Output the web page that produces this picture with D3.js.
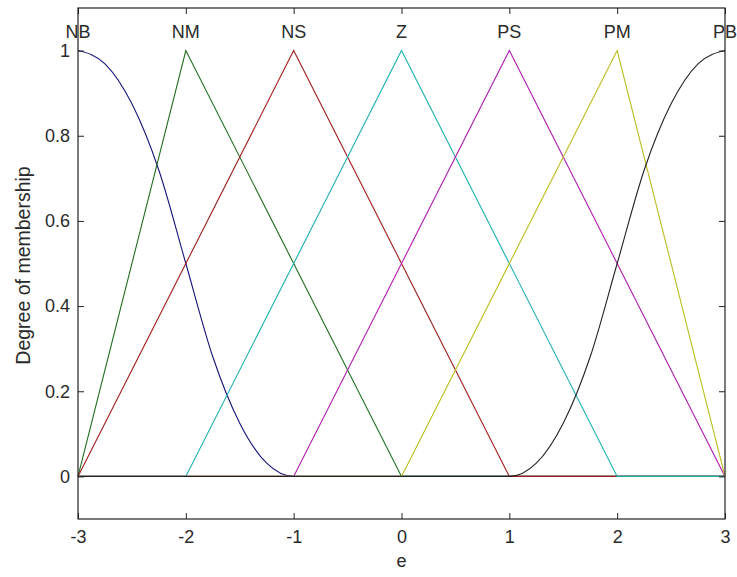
<!DOCTYPE html>
<html>
<head>
<meta charset="utf-8">
<script src="https://cdn.jsdelivr.net/npm/d3@7/dist/d3.min.js"></script>
<style>
  body { margin: 0; background: #fff; }
  svg text { font-family: "Liberation Sans", Arial, sans-serif; fill: #2a2a2a; }
</style>
</head>
<body>
<div id="chart"></div>
<script>
// membership function names (labels on top) and their peak positions
var mfNames = ["NB", "NM", "NS", "Z", "PS", "PM", "PB"]
var mfPeaks = [-3, -2, -1, 0, 1, 2, 3]
var mfColors = ["#14147a", "#1f6e1f", "#a01c1c", "#1cb0b0", "#b01cb0", "#bcbc1c", "#222222"]

// points of each curve (each covers the whole range -3..3)
var nbX = [-3, -2.75, -2.5, -2.25, -2, -1.75, -1.5, -1.25, -1, 3]
var nbY = [1, 0.969, 0.875, 0.719, 0.5, 0.281, 0.125, 0.031, 0, 0]
var nmX = [-3, -2, 0, 3]
var nmY = [0, 1, 0, 0]
var nsX = [-3, -1, 1, 3]
var nsY = [0, 1, 0, 0]
var zX = [-3, -2, 0, 2, 3]
var zY = [0, 0, 1, 0, 0]
var psX = [-3, -1, 1, 3]
var psY = [0, 0, 1, 0]
var pmX = [-3, 0, 2, 3]
var pmY = [0, 0, 1, 0]
var pbX = [-3, 1, 1.25, 1.5, 1.75, 2, 2.25, 2.5, 2.75, 3]
var pbY = [0, 0, 0.031, 0.125, 0.281, 0.5, 0.719, 0.875, 0.969, 1]

var xTicks = [-3, -2, -1, 0, 1, 2, 3]
var yTicks = [0, 0.2, 0.4, 0.6, 0.8, 1]

var seriesX = [nbX, nmX, nsX, zX, psX, pmX, pbX]
var seriesY = [nbY, nmY, nsY, zY, psY, pmY, pbY]
var smooth = [true, false, false, false, false, false, true]

var w = 737, h = 577
var pLeft = 78, pRight = 725, pTop = 8, pBottom = 519

var svg = d3.select("#chart").append("svg")
	.attr("width", w)
	.attr("height", h)

var x = d3.scaleLinear().domain([-3, 3]).range([pLeft, pRight])
var y = d3.scaleLinear().domain([-0.1, 1.1]).range([pBottom, pTop])

// curves, drawn in order so later ones cover the zero line
for (var i = 0; i < mfNames.length; i++) {
	var pts = seriesX[i].map(function(v, j){ return [v, seriesY[i][j]] })
	var line = d3.line()
		.x(function(d){ return x(d[0]) })
		.y(function(d){ return y(d[1]) })
		.curve(smooth[i] ? d3.curveMonotoneX : d3.curveLinear)
	svg.append("path")
		.datum(pts)
		.attr("d", line)
		.attr("fill", "none")
		.attr("stroke", mfColors[i])
		.attr("stroke-width", 1.1)
}

// axes, ticks pointing inwards
var fs = "18px"
var fmt = function(d){ return String(+(+d).toFixed(1)) }
svg.append("g").attr("transform", "translate(0," + pBottom + ")")
	.call(d3.axisBottom(x).tickValues(xTicks).tickFormat(fmt).tickSize(-6).tickSizeOuter(0).tickPadding(11))
svg.append("g").attr("transform", "translate(0," + pTop + ")")
	.call(d3.axisTop(x).tickValues(xTicks).tickFormat("").tickSize(-6).tickSizeOuter(0))
svg.append("g").attr("transform", "translate(" + pLeft + ",0)")
	.call(d3.axisLeft(y).tickValues(yTicks).tickFormat(fmt).tickSize(-6).tickSizeOuter(0).tickPadding(8))
svg.append("g").attr("transform", "translate(" + pRight + ",0)")
	.call(d3.axisRight(y).tickValues(yTicks).tickFormat("").tickSize(-6).tickSizeOuter(0))

svg.selectAll(".domain").remove()
svg.selectAll(".tick line").attr("stroke", "#222")
svg.selectAll(".tick text")
	.style("font-size", fs)
	.style("font-family", "'Liberation Sans', Arial, sans-serif")
	.attr("fill", "#2a2a2a")

svg.append("rect")
	.attr("x", pLeft)
	.attr("y", pTop)
	.attr("width", pRight - pLeft)
	.attr("height", pBottom - pTop)
	.attr("fill", "none")
	.attr("stroke", "#222")
	.attr("stroke-width", 1.2)

// names above the peaks
svg.selectAll("text.mf")
	.data(mfNames)
	.enter().append("text")
	.attr("class", "mf")
	.attr("x", function(d, i){ return x(mfPeaks[i]) })
	.attr("y", 38)
	.attr("text-anchor", "middle")
	.style("font-size", fs)
	.text(function(d){ return d })

// axis titles
svg.append("text")
	.attr("x", (pLeft + pRight) / 2)
	.attr("y", 567)
	.attr("text-anchor", "middle")
	.style("font-size", fs)
	.text("e")

svg.append("text")
	.attr("transform", "translate(30," + ((pTop + pBottom) / 2 + 2) + ") rotate(-90)")
	.attr("text-anchor", "middle")
	.style("font-size", "19.5px")
	.text("Degree of membership")
</script>
</body>
</html>
